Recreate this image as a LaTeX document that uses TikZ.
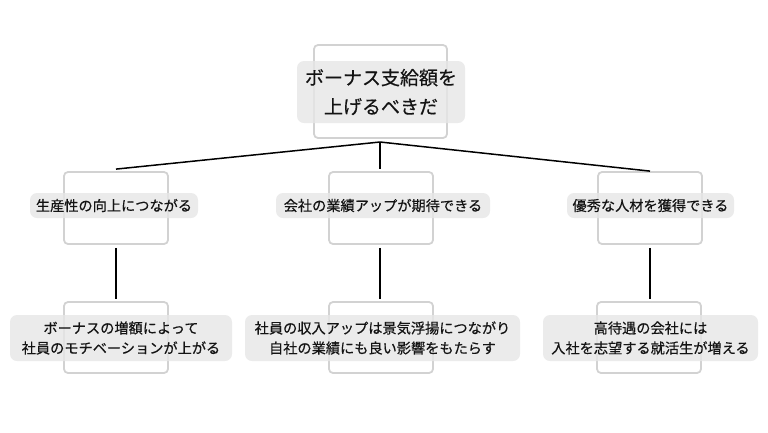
\documentclass[tikz,border=0pt]{standalone}
\usepackage{fontspec}
\newfontfamily\jp[FakeBold=0.4]{Noto Sans CJK JP}
\definecolor{boxline}{HTML}{D2D2D2}
\definecolor{labelfill}{HTML}{E6E6E6}
\definecolor{txt}{HTML}{141414}
\tikzset{
  frame/.style={draw=boxline, line width=1.8pt, rounded corners=4pt, minimum width=104pt, minimum height=72pt, inner sep=0pt},
  lab/.style={fill=labelfill, fill opacity=0.82, text opacity=1, text=txt, rounded corners=7pt, inner sep=0pt, align=center, font=\jp\fontsize{14.2}{20}\selectfont},
  toplab/.style={lab, font=\jp\fontsize{19}{29}\selectfont},
  conn/.style={draw=black, line width=1.5pt}
}
\begin{document}
\begin{tikzpicture}[x=1pt,y=-1pt]
\useasboundingbox (0,0) rectangle (768,432);
% frames
\node[frame, minimum width=133pt, minimum height=93pt] (b0) at (380.5,91.5) {};
\node[frame] (b1) at (116,208) {};
\node[frame] (b2) at (381,208) {};
\node[frame] (b3) at (650,208) {};
\node[frame, minimum height=71pt] (c1) at (116,337.5) {};
\node[frame, minimum height=71pt] (c2) at (381,337.5) {};
\node[frame, minimum height=71pt] (c3) at (649,337.5) {};
% labels
\node[toplab, minimum width=168pt, minimum height=62pt] (t0) at (381,92) {ボーナス支給額を\\上げるべきだ};
\node[lab, minimum width=168pt, minimum height=25pt] (t1) at (114,205.5) {生産性の向上につながる};
\node[lab, minimum width=214pt, minimum height=25pt] (t2) at (383,205.5) {会社の業績アップが期待できる};
\node[lab, minimum width=167pt, minimum height=25pt] (t3) at (650.5,205.5) {優秀な人材を獲得できる};
\node[lab, minimum width=222pt, minimum height=46pt] (u1) at (121,338) {ボーナスの増額によって\\社員のモチベーションが上がる};
\node[lab, minimum width=275pt, minimum height=46pt] (u2) at (382.5,338) {社員の収入アップは景気浮揚につながり\\自社の業績にも良い影響をもたらす};
\node[lab, minimum width=215pt, minimum height=46pt] (u3) at (650.5,338) {高待遇の会社には\\入社を志望する就活生が増える};
% connectors
\coordinate (j) at (380,142);
\draw[conn] (j) -- ([yshift=2pt]b1.north);
\draw[conn] (j) -- ([yshift=2pt]b2.north -| j);
\draw[conn] (j) -- ([yshift=0pt]b3.north);
\draw[conn] ([yshift=-3pt]b1.south) -- ([yshift=2pt]c1.north);
\draw[conn] ([yshift=-3pt]b2.south -| j) -- ([yshift=2pt]c2.north -| j);
\draw[conn] ([yshift=-3pt]b3.south) -- ([yshift=2pt]c3.north -| b3.south);
\end{tikzpicture}
\end{document}
